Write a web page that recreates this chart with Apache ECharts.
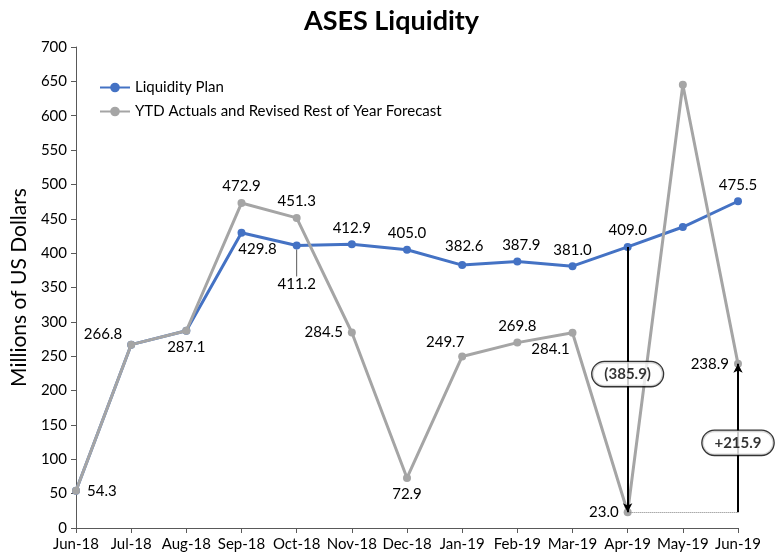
<!DOCTYPE html>
<html lang="en">
<head>
    <meta charset="UTF-8">
    <title>ASES Liquidity</title>
    <script src="https://cdn.jsdelivr.net/npm/echarts@6/dist/echarts.min.js"></script>
</head>
<style type="text/css">
    body{
        margin:0;
        background:#fff;
    }
    .chart{
        width: 783px;
        height: 558px;
    }
</style>
<body>
    <div class="chart" id="main"></div>
<script type="text/javascript">
var months = ['Jun-18', 'Jul-18', 'Aug-18', 'Sep-18', 'Oct-18', 'Nov-18', 'Dec-18',
    'Jan-19', 'Feb-19', 'Mar-19', 'Apr-19', 'May-19', 'Jun-19'];
var planValues = [54.3, 266.8, 287.1, 429.8, 411.2, 412.9, 405.0, 382.6, 387.9, 381.0, 409.0, 438.0, 475.5];
var actualValues = [54.3, 266.8, 287.1, 472.9, 451.3, 284.5, 72.9, 249.7, 269.8, 284.1, 23.0, 645.0, 238.9];
var yTicks = [0, 700, 50];

// label placement per point: [position, dx, dy], null = no label
var planLabels = [null, null, null, ['bottom', 16, 0], ['bottom', 0, 22], ['top', 0, 0], ['top', 0, 0],
    ['top', 2, -2], ['top', 4, 0], ['top', 0, 0], ['top', 0, 0], null, ['top', 0, 0]];
var actualLabels = [['right', 2, 0], ['left', 0, -11], ['bottom', 0, 0], ['top', 0, 0], ['top', 0, 0],
    ['left', 0, 0], ['bottom', 0, 0], ['top', -17, 2], ['top', 0, 0], ['bottom', -22, 0],
    ['left', 0, 0], null, ['left', 0, 0]];

// callouts: from month, to month, text
var dropFrom = 'Apr-19', riseAt = 'Jun-19';
var dropText = '(385.9)', riseText = '+215.9';

var FONT = 'Lato, "Open Sans", sans-serif';

function buildData(values, labels) {
    return values.map(function (v, i) {
        var l = labels[i];
        if (!l) return { value: v, label: { show: false } };
        return { value: v, label: { show: true, position: l[0] } };
    });
}

function shiftBy(labels) {
    return function (p) {
        var l = labels[p.dataIndex];
        return l ? { dx: l[1], dy: l[2] } : {};
    };
}

var iDrop = months.indexOf(dropFrom), iRise = months.indexOf(riseAt);
var dropTop = planValues[iDrop], dropBottom = actualValues[iDrop];
var riseTop = actualValues[iRise];

var calloutLabel = {
    show: true,
    position: 'inside',
    color: '#000',
    fontWeight: 'bold',
    fontSize: 15,
    fontFamily: FONT,
    backgroundColor: '#fff',
    borderColor: '#000',
    borderWidth: 1.3,
    borderRadius: 13,
    padding: [5, 12, 4, 12]
};

var valueLabel = {
    color: '#000',
    fontSize: 15,
    formatter: function (p) { return p.value.toFixed(1); }
};

var option = {
    animation: false,
    textStyle: { fontFamily: FONT },
    title: {
        text: 'ASES Liquidity',
        left: 'center',
        top: 3,
        textStyle: { fontSize: 27, fontWeight: 'bold', color: '#000', fontFamily: FONT }
    },
    legend: {
        orient: 'vertical',
        left: 94,
        top: 75,
        itemWidth: 30,
        itemHeight: 12,
        itemGap: 9,
        data: ['Liquidity Plan', 'YTD Actuals and Revised Rest of Year Forecast'],
        textStyle: { fontSize: 15, color: '#000' }
    },
    grid: { left: 76, right: 45, top: 47, bottom: 30 },
    xAxis: {
        type: 'category',
        data: months,
        boundaryGap: false,
        axisLine: { lineStyle: { color: '#595959', width: 1 } },
        axisTick: { show: true, alignWithLabel: true, length: 5, lineStyle: { color: '#595959' } },
        axisLabel: { color: '#000', fontSize: 15, margin: 9, interval: 0 }
    },
    yAxis: {
        type: 'value',
        min: yTicks[0],
        max: yTicks[1],
        interval: yTicks[2],
        name: 'Millions of US Dollars',
        nameLocation: 'middle',
        nameGap: 45,
        nameTextStyle: { fontSize: 21, color: '#000' },
        axisLine: { show: true, lineStyle: { color: '#595959', width: 1 } },
        axisTick: { show: true, length: 5, lineStyle: { color: '#595959' } },
        splitLine: { show: false },
        axisLabel: { color: '#000', fontSize: 15, margin: 9 }
    },
    series: [
        {
            name: 'Liquidity Plan',
            type: 'line',
            data: buildData(planValues, planLabels),
            color: '#4472C4',
            lineStyle: { width: 3 },
            symbol: 'circle',
            symbolSize: 8,
            z: 2,
            label: valueLabel,
            labelLine: { show: false, lineStyle: { color: '#595959', width: 1 } },
            labelLayout: shiftBy(planLabels)
        },
        {
            name: 'YTD Actuals and Revised Rest of Year Forecast',
            type: 'line',
            data: buildData(actualValues, actualLabels),
            color: '#A5A5A5',
            lineStyle: { width: 3 },
            symbol: 'circle',
            symbolSize: 8,
            z: 3,
            label: valueLabel,
            labelLayout: shiftBy(actualLabels),
            markLine: {
                silent: true,
                symbol: ['none', 'arrow'],
                symbolSize: [7, 9],
                label: { show: false },
                data: [
                    [{ coord: [dropFrom, dropTop], lineStyle: { color: '#000', width: 2, type: 'solid' } },
                     { coord: [dropFrom, dropBottom] }],
                    [{ coord: [riseAt, dropBottom], lineStyle: { color: '#000', width: 2, type: 'solid' } },
                     { coord: [riseAt, riseTop] }],
                    [{ coord: [dropFrom, dropBottom], symbol: 'none', lineStyle: { color: '#7f7f7f', width: 1, type: 'dotted' } },
                     { coord: [riseAt, dropBottom], symbol: 'none' }]
                ]
            }
        },
        {
            type: 'scatter',
            symbolSize: 0,
            z: 10,
            silent: true,
            data: [
                { value: [dropFrom, (dropTop + dropBottom) / 2 + 8], label: Object.assign({ formatter: dropText }, calloutLabel) },
                { value: [riseAt, (riseTop + dropBottom) / 2 - 7], label: Object.assign({ formatter: riseText }, calloutLabel) }
            ]
        }
    ]
};

// leader line for the Oct-18 plan label
option.series[0].data[4].labelLine = { show: true, length2: 0 };

var myChart = echarts.init(document.getElementById('main'));
myChart.setOption(option);
</script>
</body>
</html>
